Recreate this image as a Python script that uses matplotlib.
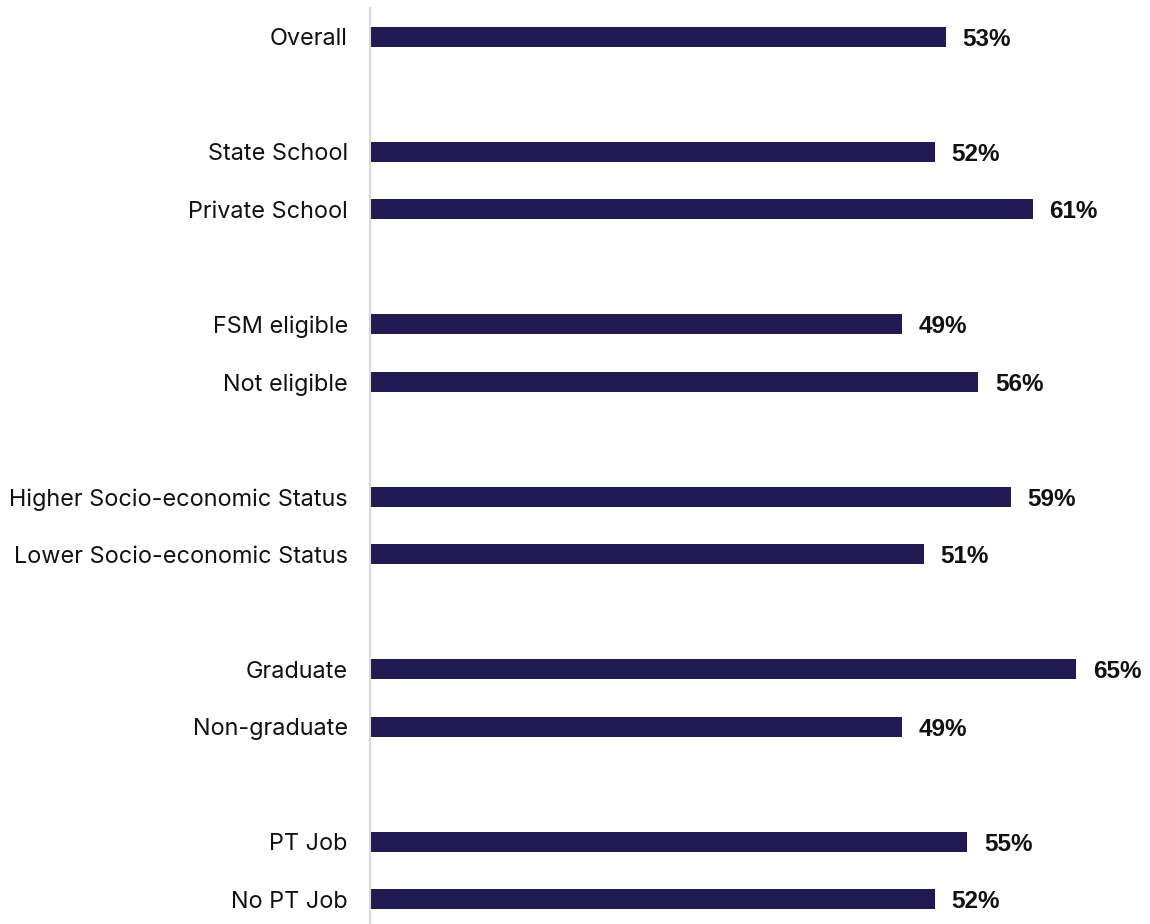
import matplotlib
matplotlib.use("Agg")
import matplotlib.pyplot as plt
from matplotlib import font_manager

categories = [
    "Overall",
    "State School", "Private School",
    "FSM eligible", "Not eligible",
    "Higher Socio-economic Status", "Lower Socio-economic Status",
    "Graduate", "Non-graduate",
    "PT Job", "No PT Job",
]
values = [53, 52, 61, 49, 56, 59, 51, 65, 49, 55, 52]
# row slots: blank slot between each group
slots = [0, 2, 3, 5, 6, 8, 9, 11, 12, 14, 15]

bar_color = "#221a52"

# regular-width bold sans for the value labels
bold_path = None
for f in font_manager.findSystemFonts():
    if f.endswith("LiberationSans-Bold.ttf"):
        bold_path = f
        break
if bold_path:
    value_font = font_manager.FontProperties(fname=bold_path, size=17.5)
else:
    value_font = font_manager.FontProperties(family="DejaVu Sans", weight="bold", size=15.5)

fig = plt.figure(figsize=(11.5, 9.24), dpi=100)
ax = fig.add_axes([370 / 1150, 0.0, 1 - 370 / 1150, (924 - 8) / 924])

ax.barh(slots, values, height=0.35, color=bar_color)
ax.set_ylim(15.43, -0.504)
ax.set_xlim(0, 71.8)

for y, v in zip(slots, values):
    ax.annotate(f"{v}%", xy=(v, y), xytext=(12, 0), textcoords="offset points",
                ha="left", va="center_baseline", fontproperties=value_font,
                color="#111111")

ax.set_yticks(slots)
ax.set_yticklabels(categories, fontsize=16.9, family="Inter", color="#111111")
ax.tick_params(axis="y", length=0, pad=16)
ax.set_xticks([])

for s in ("top", "right", "bottom"):
    ax.spines[s].set_visible(False)
ax.spines["left"].set_color("#d9d9d9")
ax.spines["left"].set_linewidth(1.5)

fig.savefig("out.png", dpi=100)
